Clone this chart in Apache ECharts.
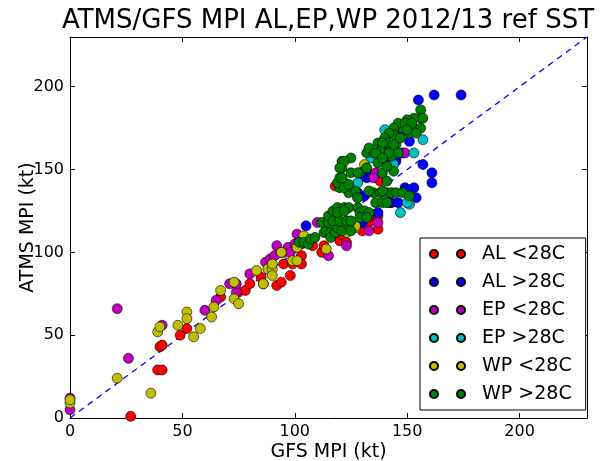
<!DOCTYPE html>
<html>
<head>
<meta charset="utf-8">
<script src="https://cdn.jsdelivr.net/npm/echarts@6/dist/echarts.min.js"></script>
<style>html,body{margin:0;padding:0;background:#fff}#c{width:602px;height:461px}</style>
</head>
<body>
<div id="c"></div>
<script>
var titleText = "ATMS/GFS MPI AL,EP,WP 2012/13 ref SST";
var xName = "GFS MPI (kt)";
var yName = "ATMS MPI (kt)";
var seriesNames = ["AL <28C", "AL >28C", "EP <28C", "EP >28C", "WP <28C", "WP >28C"];
var seriesColors = ["#ff0000", "#0000ff", "#bf00bf", "#00bfbf", "#bfbf00", "#008000"];
var axisMin = 0, axisMax = 230, tickStep = 50;
var diagonal = [[0, 0], [230, 230]];

var alLt28 = [[27,1],[39,29],[41,29],[40,43],[41,44],[49,50],[52,54],[67,73],[75,76],[78,77],[80,81],[85,85],[86,81],[92,80],[94,82],[95,93],[98,86],[99,93],[103,98],[103,93],[103,105],[108,104],[112,100],[113,104],[117,111],[120,107],[121,111],[123,106],[124,113],[124,118],[126,116],[130,113],[133,118],[135,123],[137,114],[136,121],[118,140],[125,137],[138,143],[137,122],[133,122]];
var alGt28 = [[174,195],[162,195],[155,192],[151,167],[148,160],[157,153],[161,148],[161,142],[149,139],[153,139],[154,133],[143,130],[146,130],[128,136],[137,124],[142,130],[105,116],[130,118],[128,133],[147,172],[145,155],[132,149],[132,145],[141,154],[130,146],[150,138],[145,157],[131,134]];
var epLt28 = [[21,66],[26,36],[41,56],[0,12],[0,5],[60,65],[65,71],[71,81],[74,76],[74,81],[80,87],[87,94],[89,96],[91,98],[95,100],[97,103],[100,105],[102,109],[92,104],[94,100],[98,100],[101,103],[101,111],[110,118],[115,98],[123,104],[133,113],[137,118],[149,160],[136,148],[135,145]];
var epGt28 = [[151,129],[147,124],[157,168],[153,160],[140,174],[128,142],[143,152],[134,157],[144,153],[150,130]];
var wpLt28 = [[0,9],[0,11],[21,24],[36,15],[39,52],[40,55],[48,56],[52,64],[52,60],[55,49],[58,54],[63,61],[64,67],[67,77],[73,82],[73,72],[75,69],[86,81],[83,89],[88,90],[90,90],[90,93],[90,86],[94,100],[99,95],[101,95],[101,103],[104,110],[114,102],[123,112],[127,115],[131,153],[127,116]];
var wpGt28 = [[102,106],[104,106],[106,105],[107,108],[109,109],[113,112],[114,113],[116,112],[116,109],[118,112],[119,115],[121,113],[124,116],[125,113],[112,118],[115,118],[115,122],[117,119],[120,119],[123,119],[125,119],[117,125],[119,127],[122,127],[124,127],[128,127],[129,124],[131,125],[133,124],[129,121],[132,121],[119,124],[122,125],
[120,139],[122,142],[124,136],[127,137],[135,136],[138,136],[141,136],[143,136],[145,136],[148,136],[151,134],[136,130],[139,130],[141,130],[119,142],[122,139],[133,137],[139,137],[128,133],[124,141],
[121,155],[121,151],[120,145],[125,148],[129,148],[125,157],[132,160],[135,160],[138,160],[141,160],[142,163],[145,165],[133,163],[137,166],[139,165],[143,158],[144,149],[139,148],[141,143],[132,151],[137,154],[141,152],[156,186],[156,181],[153,181],[150,180],[153,175],[156,175],[151,172],[148,175],[146,178],[144,175],[144,171],[142,172],[140,169],[141,166],[139,166],[144,165],[138,161],[142,160],[136,160],[139,157],[146,160],[147,169],[157,181],[149,178],[152,178],[154,172],[150,174],[122,155],[120,151],[121,145],[128,148]];

var allData = [alLt28, alGt28, epLt28, epGt28, wpLt28, wpGt28];
var FONT = "DejaVu Sans";
var legendIcon = 'path://M0,4a4,4 0 1,0 8,0a4,4 0 1,0 -8,0M27,4a4,4 0 1,0 8,0a4,4 0 1,0 -8,0';

var series = [{
  type: 'line', data: diagonal, symbol: 'none', silent: true, z: 1,
  lineStyle: {color: '#0000ff', width: 1.3, type: [6, 5]}
}];
for (var i = 0; i < seriesNames.length; i++) {
  series.push({
    name: seriesNames[i], type: 'scatter', data: allData[i], symbol: 'circle', symbolSize: 10, z: 2 + i,
    itemStyle: {color: seriesColors[i], borderColor: '#000', borderWidth: 0.6, opacity: 1}
  });
}

function axisCommon(extra) {
  var base = {
    type: 'value', min: axisMin, max: axisMax, interval: tickStep,
    splitLine: {show: false},
    axisLine: {show: true, onZero: false, lineStyle: {color: '#000', width: 1}},
    axisTick: {show: true, inside: true, length: 5, lineStyle: {color: '#000'}},
    axisLabel: {color: '#000', fontFamily: FONT, fontSize: 16, showMaxLabel: false}
  };
  for (var k in extra) base[k] = extra[k];
  return base;
}

var chart = echarts.init(document.getElementById('c'));
chart.setOption({
  animation: false,
  backgroundColor: '#fff',
  title: {text: titleText, left: 323, top: 3, textAlign: 'center',
    textStyle: {fontFamily: FONT, fontSize: 26, fontWeight: 'normal', color: '#000'}},
  grid: {left: 70, right: 15, top: 37, bottom: 43, containLabel: false, outerBoundsMode: 'none'},
  xAxis: [
    axisCommon({position: 'bottom', name: xName, nameLocation: 'middle', nameGap: 25, nameMoveOverlap: false,
      nameTextStyle: {fontFamily: FONT, fontSize: 19, color: '#000'},
      axisLabel: {color: '#000', fontFamily: FONT, fontSize: 16, margin: 6, showMaxLabel: false}}),
    axisCommon({position: 'top', axisLabel: {show: false}})
  ],
  yAxis: [
    axisCommon({position: 'left', name: yName, nameLocation: 'middle', nameGap: 32, nameMoveOverlap: false,
      nameTextStyle: {fontFamily: FONT, fontSize: 19, color: '#000'},
      axisLabel: {color: '#000', fontFamily: FONT, fontSize: 16, margin: 6, showMaxLabel: false}}),
    axisCommon({position: 'right', axisLabel: {show: false}})
  ],
  legend: {
    orient: 'vertical', left: 420, top: 238, selectedMode: false,
    data: seriesNames, icon: legendIcon, itemWidth: 35, itemHeight: 8, itemGap: 8,
    padding: [6, 14, 6, 9], borderColor: '#000', borderWidth: 1, backgroundColor: '#fff',
    textStyle: {fontFamily: FONT, fontSize: 19, lineHeight: 20, color: '#000', padding: [0, 0, 0, 12]}
  },
  series: series
});
</script>
</body>
</html>
